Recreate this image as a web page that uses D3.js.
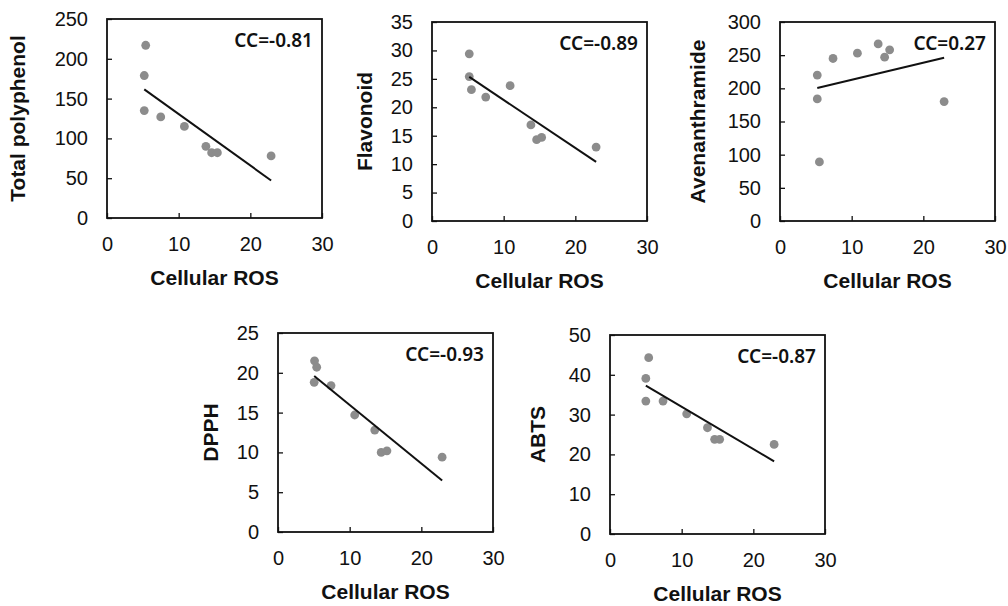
<!DOCTYPE html>
<html lang="en">
<head>
	<meta charset="utf-8">
	<title>Cellular ROS correlations</title>
	<script src="https://d3js.org/d3.v7.min.js" charset="utf-8"></script>
	<style>
		body { margin: 0; background: #fff; }
		.tick text { font-family: "Liberation Sans", Arial, sans-serif; font-size: 20px; fill: #111; }
		.tick line { stroke: #111; stroke-width: 1.3; }
	</style>
</head>
<body>
	<script>
		// x values = cellular ROS, read per panel off the picture
		var rosTP = [5.4, 5.2, 5.2, 7.5, 10.8, 13.8, 14.6, 15.4, 22.9];
		var totalPolyphenol = [217, 179, 135, 127, 115, 90, 82, 82, 78];

		var rosFL = [5.2, 5.2, 5.5, 7.5, 10.9, 13.8, 14.6, 15.3, 22.9];
		var flavonoid = [29.4, 25.4, 23.1, 21.8, 23.8, 16.9, 14.3, 14.7, 13.0];

		var rosAV = [5.2, 5.2, 5.5, 7.4, 10.8, 13.7, 14.6, 15.3, 22.9];
		var avenanthramide = [220, 184, 89, 245, 253, 267, 247, 258, 180];

		var rosDP = [5.1, 5.4, 5.05, 7.4, 10.7, 13.5, 14.4, 15.2, 22.9];
		var dpph = [21.5, 20.7, 18.8, 18.4, 14.7, 12.8, 10.0, 10.2, 9.4];

		var rosAB = [5.4, 5.0, 5.0, 7.4, 10.7, 13.6, 14.6, 15.3, 22.9];
		var abts = [44.3, 39.1, 33.4, 33.4, 30.2, 26.7, 23.8, 23.8, 22.5];

		var yTitles = ["Total polyphenol", "Flavonoid", "Avenanthramide", "DPPH", "ABTS"];
		var ccLabels = ["CC=-0.81", "CC=-0.89", "CC=0.27", "CC=-0.93", "CC=-0.87"];
		var yMax = [250, 35, 300, 25, 50];
		var yStep = [50, 5, 50, 5, 10];
		var xTicks = [0, 10, 20, 30];
		var xTitle = "Cellular ROS";

		var xs = [rosTP, rosFL, rosAV, rosDP, rosAB];
		var ys = [totalPolyphenol, flavonoid, avenanthramide, dpph, abts];

		// where each panel sits (plot box left/top) and how far its y title is from the axis
		var layout = [
			{left: 107, top: 19, titleOff: 82},
			{left: 432, top: 22, titleOff: 60},
			{left: 780, top: 22, titleOff: 75},
			{left: 278, top: 333, titleOff: 60},
			{left: 610, top: 335, titleOff: 65}
		];
		var w = 215, h = 199;

		var svg = d3.select("body")
			.append("svg")
			.attr("width", 1008)
			.attr("height", 606);

		layout.forEach(function(pos, k) {
			var pts = xs[k].map(function(x, i) { return {x: x, y: ys[k][i]}; });

			var xScale = d3.scaleLinear().domain([0, 30]).range([0, w]);
			var yScale = d3.scaleLinear().domain([0, yMax[k]]).range([h, 0]);

			var g = svg.append("g")
				.attr("transform", "translate(" + pos.left + "," + pos.top + ")");

			// axes with ticks pointing inward
			g.append("g")
				.attr("transform", "translate(0," + h + ")")
				.call(d3.axisBottom(xScale).tickValues(xTicks).tickSizeInner(-5).tickSizeOuter(0).tickPadding(19))
				.call(function(a) { a.select(".domain").remove(); });

			g.append("g")
				.call(d3.axisLeft(yScale).tickValues(d3.range(0, yMax[k] + 0.001, yStep[k])).tickSizeInner(-5).tickSizeOuter(0).tickPadding(19))
				.call(function(a) { a.select(".domain").remove(); });

			// plot frame
			g.append("rect")
				.attr("width", w)
				.attr("height", h)
				.attr("fill", "none")
				.attr("stroke", "#111")
				.attr("stroke-width", 1.8);

			// points
			g.selectAll("circle")
				.data(pts)
				.enter()
				.append("circle")
				.attr("cx", function(d) { return xScale(d.x); })
				.attr("cy", function(d) { return yScale(d.y); })
				.attr("r", 4.4)
				.attr("fill", "#8c8c8c");

			// least squares trend line between min and max x
			var mx = d3.mean(pts, function(d) { return d.x; });
			var my = d3.mean(pts, function(d) { return d.y; });
			var sxy = d3.sum(pts, function(d) { return (d.x - mx) * (d.y - my); });
			var sxx = d3.sum(pts, function(d) { return (d.x - mx) * (d.x - mx); });
			var slope = sxy / sxx;
			var ends = d3.extent(pts, function(d) { return d.x; });

			g.append("line")
				.attr("x1", xScale(ends[0]))
				.attr("y1", yScale(my + slope * (ends[0] - mx)))
				.attr("x2", xScale(ends[1]))
				.attr("y2", yScale(my + slope * (ends[1] - mx)))
				.attr("stroke", "#111")
				.attr("stroke-width", 2);

			g.append("text")
				.attr("x", w - 9)
				.attr("y", 28)
				.attr("text-anchor", "end")
				.style("font-family", "'Noto Sans', sans-serif")
				.style("font-weight", "600")
				.style("font-size", "19px")
				.attr("fill", "#111")
				.text(ccLabels[k]);

			g.append("text")
				.attr("x", w / 2)
				.attr("y", h + 67)
				.attr("text-anchor", "middle")
				.style("font-family", "'Liberation Sans', Arial, sans-serif")
				.style("font-weight", "bold")
				.style("font-size", "21px")
				.attr("fill", "#111")
				.text(xTitle);

			g.append("text")
				.attr("text-anchor", "middle")
				.attr("transform", "translate(" + (-pos.titleOff) + "," + (h / 2) + ") rotate(-90)")
				.style("font-family", "'Liberation Sans', Arial, sans-serif")
				.style("font-weight", "bold")
				.style("font-size", "21px")
				.attr("fill", "#111")
				.text(yTitles[k]);
		});
	</script>
</body>
</html>
